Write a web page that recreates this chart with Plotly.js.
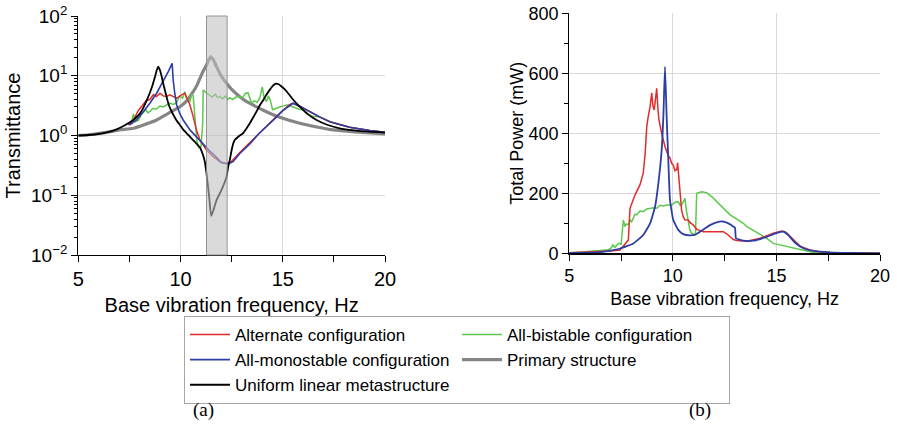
<!DOCTYPE html>
<html>
<head>
<meta charset="utf-8">
<script src="https://cdn.plot.ly/plotly-3.0.1.min.js"></script>
<style>html,body{margin:0;padding:0;background:#fff;}#chart{width:897px;height:425px;}</style>
</head>
<body>
<div id="chart"></div>
<script>
// ---------- (a) Transmittance ----------
const primaryF = [5.0,5.5,6.06,6.5,7.0,7.69,8.3,8.83,9.4,9.97,10.3,10.62,10.8,10.95,11.1,11.27,11.38,11.48,11.6,11.76,11.95,12.1,12.25,12.5,12.9,13.2,13.55,14.0,14.5,15.0,15.83,16.6,17.46,18.5,20.0];
const primaryT = [1.0,1.03,1.09,1.15,1.24,1.32,1.55,1.82,2.35,3.03,3.8,5.4,6.9,9.05,11.8,15.1,18.5,20.8,18.6,14.2,10.5,8.7,7.5,5.9,4.45,3.75,3.24,2.7,2.25,1.94,1.6,1.4,1.24,1.15,1.06];

const uniformF = [5.0,5.5,6.06,6.5,6.87,7.3,7.69,8.0,8.18,8.35,8.5,8.65,8.75,8.84,8.91,8.98,9.07,9.15,9.28,9.40,9.52,9.64,9.8,9.97,10.14,10.3,10.5,10.7,10.95,11.11,11.19,11.27,11.40,11.50,11.6,11.76,12.0,12.25,12.33,12.41,12.49,12.57,12.65,12.74,12.9,13.06,13.22,13.39,13.55,13.71,13.88,14.04,14.2,14.36,14.5,14.66,14.8,14.94,15.1,15.26,15.5,15.83,16.2,16.65,17.2,17.78,18.5,19.2,20.0];
const uniformT = [1.0,1.02,1.07,1.15,1.27,1.5,1.82,2.3,2.9,3.9,5.2,7.3,9.6,12.5,14.2,12.8,10.0,7.5,5.0,3.46,2.7,2.25,1.8,1.5,1.24,1.09,0.92,0.78,0.63,0.46,0.36,0.233,0.095,0.045,0.055,0.083,0.122,0.204,0.3,0.39,0.55,0.72,0.84,0.9,1.0,1.09,1.3,1.6,2.0,2.5,3.2,3.9,4.8,5.8,6.7,7.4,7.2,6.6,5.9,5.1,4.0,3.03,2.3,1.82,1.5,1.32,1.22,1.16,1.12];

const monoF = [7.5,7.85,8.18,8.5,8.83,9.15,9.40,9.59,9.64,9.72,9.81,9.97,10.13,10.46,10.78,11.11,11.43,11.76,12.0,12.33,12.57,12.9,13.39,13.8,14.2,14.6,15.0,15.34,15.5,15.9,16.32,16.8,17.3,18.27,19.25,20.0];
const monoT = [1.5,1.82,2.5,3.46,5.1,7.9,11.7,16.1,8.5,5.0,3.24,2.3,1.82,1.24,0.95,0.7,0.55,0.43,0.35,0.333,0.365,0.5,0.72,1.05,1.4,1.9,2.6,3.2,3.46,3.0,2.5,2.05,1.7,1.37,1.21,1.13];

const altF = [7.44,7.69,7.93,8.18,8.34,8.5,8.67,8.83,8.99,9.15,9.32,9.48,9.56,9.7,9.81,9.95,10.05,10.21,10.33,10.46,10.62,10.78,10.95,11.27,11.6,11.92,12.25,12.5,12.9,13.55,14.2,14.85,15.34,15.5,15.9,16.32,16.8,17.3,18.27,19.25,20.0];
const altT = [1.5,1.8,2.6,3.4,3.9,4.0,4.8,4.5,5.1,4.6,4.5,4.8,4.6,4.4,4.2,4.6,4.8,5.1,4.2,3.24,2.07,1.24,0.84,0.57,0.44,0.365,0.34,0.37,0.52,0.86,1.4,2.35,3.3,3.45,3.0,2.5,2.05,1.7,1.37,1.21,1.13];

const biF = [7.6,7.69,7.8,7.95,8.1,8.3,8.4,8.5,8.65,8.8,8.99,9.15,9.32,9.48,9.64,9.8,9.97,10.1,10.21,10.3,10.46,10.54,10.62,10.7,10.8,10.9,11.0,11.08,11.11,11.25,11.43,11.55,11.7,11.8,11.92,12.05,12.2,12.3,12.41,12.55,12.7,12.9,13.05,13.15,13.3,13.4,13.47,13.6,13.75,13.88,14.0,14.08,14.2,14.3,14.4,14.5,14.6,14.85,15.0,15.18,15.35,15.5,15.8,15.99,16.2,16.48,16.8,17.3,18.27,19.25,20.0];
const biT = [1.6,2.3,1.7,1.8,2.3,2.7,2.4,2.5,2.85,2.75,3.1,3.0,3.24,3.5,3.3,3.5,4.6,4.2,5.4,4.0,3.7,4.8,4.6,2.0,0.8,0.62,0.65,1.5,5.8,5.2,4.8,4.4,4.9,4.3,4.5,4.1,4.6,4.0,4.3,4.0,4.4,4.5,4.3,5.0,5.2,4.0,3.5,3.8,3.6,4.3,6.5,4.4,3.7,4.6,3.8,2.7,2.8,3.0,3.1,3.24,3.15,3.0,2.75,2.7,2.35,2.07,2.05,1.7,1.37,1.21,1.13];

const bandGap = [11.27, 12.28];

// ---------- (b) Total power ----------
const altPF = [5.0,6.0,6.5,6.97,7.45,7.69,7.85,7.93,8.17,8.41,8.57,8.66,8.74,8.82,8.9,8.98,9.04,9.1,9.16,9.22,9.28,9.33,9.46,9.62,9.78,9.86,9.94,10.02,10.1,10.19,10.23,10.31,10.42,10.5,10.58,10.74,10.82,10.99,11.15,11.23,11.47,12.44,12.6,12.76,12.92,13.08,13.57,13.73,14.21,14.7,14.85,15.25,15.4,15.5,15.82,16.14,16.62,17.0,17.6,18.5,20.0];
const altP = [2,4,5,8,11,30,44,150,194,228,267,330,422,460,489,535,490,478,520,550,480,444,400,355,325,318,300,294,275,280,302,233,144,122,112,111,103,94,80,78,72,72,65,55,46,43,40,43,50,63,67,74,72,67,44,24,11,6,3,1,0];

const monoPF = [5.0,6.0,6.5,6.97,7.45,8.09,8.57,8.9,9.14,9.3,9.46,9.54,9.62,9.7,9.78,9.86,10.02,10.26,10.5,10.82,11.07,11.31,11.79,12.19,12.4,12.6,12.8,12.92,13.0,13.05,13.4,13.89,14.53,15.0,15.33,15.57,15.9,16.3,16.78,17.59,18.5,20.0];
const monoP = [1,2,4,9,16,33,61,100,155,233,344,455,622,455,311,178,111,78,64,60,62,72,94,105,106,102,95,89,85,50,42,42,55,67,72,61,35,17,8,3,1,0];

const biPF = [5.0,6.0,6.48,6.9,6.97,7.05,7.1,7.2,7.37,7.5,7.61,7.69,7.75,7.85,7.93,8.01,8.17,8.25,8.41,8.57,8.74,8.9,9.06,9.22,9.38,9.54,9.7,9.94,10.1,10.26,10.35,10.42,10.5,10.58,10.66,10.74,10.82,10.9,11.04,11.09,11.15,11.39,11.63,11.88,12.12,12.28,12.44,12.6,12.76,13.0,13.16,13.4,13.57,13.8,13.97,14.2,14.53,14.85,15.17,15.5,16.14,16.78,17.5,20.0];
const biP = [1,5,9,12,17,20,28,20,33,30,111,89,98,95,111,105,130,128,141,139,148,150,152,150,160,158,161,161,170,172,160,161,175,183,140,100,78,67,61,62,200,205,202,189,172,160,152,140,128,118,111,100,89,80,72,65,50,33,28,22,11,3,1,0];

const legendNames = ["Alternate configuration","All-bistable configuration","All-monostable configuration","Primary structure","Uniform linear metastructure"];
const xTickVals = [5,10,15,20];
const yTickValsA = [0.01,0.1,1,10,100];
const yTickTextA = ["10<sup>\u22122</sup>","10<sup>\u22121</sup>","10<sup>0</sup>","10<sup>1</sup>","10<sup>2</sup>"];

// colors
const cRed = "#e32b2b", cGreen = "#5cc84c", cBlue = "#2c3ea3", cGray = "#858585", cBlack = "#000000";

const logMinor = [];
for (let e = -2; e < 2; e++) for (let k = 2; k <= 9; k++) logMinor.push(k * Math.pow(10, e));

const traces = [
  {x: primaryF, y: primaryT, xaxis:'x', yaxis:'y', mode:'lines', name: legendNames[3], legendrank: 4, line:{color:cGray, width:3.2, shape:'spline', smoothing:0.6}},
  {x: biF, y: biT, xaxis:'x', yaxis:'y', mode:'lines', name: legendNames[1], legendrank: 2, line:{color:cGreen, width:1.5}},
  {x: altF, y: altT, xaxis:'x', yaxis:'y', mode:'lines', name: legendNames[0], legendrank: 1, line:{color:cRed, width:1.5}},
  {x: monoF, y: monoT, xaxis:'x', yaxis:'y', mode:'lines', name: legendNames[2], legendrank: 3, line:{color:cBlue, width:1.6}},
  {x: uniformF, y: uniformT, xaxis:'x', yaxis:'y', mode:'lines', name: legendNames[4], legendrank: 5, line:{color:cBlack, width:1.8, shape:'spline', smoothing:0.5}},
  {x: biPF, y: biP, xaxis:'x2', yaxis:'y2', mode:'lines', showlegend:false, line:{color:cGreen, width:1.5}},
  {x: altPF, y: altP, xaxis:'x2', yaxis:'y2', mode:'lines', showlegend:false, line:{color:cRed, width:1.5}},
  {x: monoPF, y: monoP, xaxis:'x2', yaxis:'y2', mode:'lines', showlegend:false, line:{color:cBlue, width:1.8, shape:'spline', smoothing:0.4}}
];

const F = "Liberation Sans, Arial, sans-serif";
const gridC = "#d9d9d9";
const W = 897, H = 425, ML = 78, MR = 17;
const gw = W - ML - MR;
const px = v => (v - ML) / gw;
const py = v => 1 - v / H;

const baseX = (dom, fs, title, standoff) => ({
  domain: dom, range: [5, 20], showline: true, linecolor: '#000', linewidth: 1.2, mirror: false,
  ticks: 'outside', ticklen: 6, tickwidth: 1, tickcolor: '#000', tickmode: 'array', tickvals: xTickVals,
  tickfont: {family: F, size: fs, color: '#000'}, showgrid: true, gridcolor: gridC, gridwidth: 1, zeroline: false,
  minor: {tickmode: 'linear', tick0: 5, dtick: 2.5, ticks: 'outside', ticklen: 6, tickcolor: '#000', showgrid: false},
  title: {text: title, font: {family: F, size: fs, color: '#000'}, standoff: standoff}, fixedrange: true
});
const topX = (ov, dom) => ({
  overlaying: ov, side: 'top', domain: dom, range: [5, 20], showline: true, linecolor: '#000', linewidth: 1.2,
  ticks: 'inside', ticklen: 5, tickcolor: '#000', tickmode: 'linear', tick0: 5, dtick: 2.5, showticklabels: false,
  showgrid: false, zeroline: false, fixedrange: true
});

const layout = {
  width: W, height: H, margin: {l: ML, r: MR, t: 0, b: 0}, paper_bgcolor: '#fff', plot_bgcolor: '#fff',
  font: {family: F, color: '#000'},
  xaxis: Object.assign(baseX([px(78.3), px(385)], 20, 'Base vibration frequency, Hz', 8), {anchor: 'y'}),
  xaxis3: Object.assign(topX('x', [px(78.3), px(385)]), {anchor: 'y'}),
  yaxis: {
    domain: [py(255), py(16)], type: 'log', range: [-2, 2], anchor: 'x',
    showline: true, linecolor: '#000', linewidth: 1.2, ticks: 'outside', ticklen: 6, tickcolor: '#000',
    tickmode: 'array', tickvals: yTickValsA, ticktext: yTickTextA, tickfont: {family: F, size: 19, color: '#000'},
    showgrid: true, gridcolor: gridC, zeroline: false,
    minor: {tickmode: 'array', tickvals: logMinor, ticks: 'outside', ticklen: 3.5, tickcolor: '#000', showgrid: false},
    title: {text: 'Transmittance', font: {family: F, size: 20, color: '#000'}, standoff: 5}, fixedrange: true
  },
  yaxis3: {
    overlaying: 'y', side: 'right', anchor: 'x', type: 'log', range: [-2, 2],
    showline: true, linecolor: '#000', linewidth: 1.2, ticks: 'inside', ticklen: 5, tickcolor: '#000',
    tickmode: 'array', tickvals: yTickValsA, showticklabels: false, showgrid: false, zeroline: false,
    minor: {tickmode: 'array', tickvals: logMinor, ticks: 'inside', ticklen: 3, tickcolor: '#000', showgrid: false},
    fixedrange: true
  },
  xaxis2: Object.assign(baseX([px(569.3), px(880)], 18, 'Base vibration frequency, Hz', 7), {anchor: 'y2'}),
  xaxis4: Object.assign(topX('x2', [px(569.3), px(880)]), {anchor: 'y2'}),
  yaxis2: {
    domain: [py(253.3), py(13.3)], range: [0, 800], anchor: 'x2',
    showline: true, linecolor: '#000', linewidth: 1.2, ticks: 'outside', ticklen: 6, tickcolor: '#000',
    tickmode: 'linear', tick0: 0, dtick: 200, tickfont: {family: F, size: 18, color: '#000'},
    showgrid: true, gridcolor: gridC, zeroline: false,
    minor: {tickmode: 'linear', tick0: 0, dtick: 100, ticks: 'outside', ticklen: 4, tickcolor: '#000', showgrid: false},
    title: {text: 'Total Power (mW)', font: {family: F, size: 18, color: '#000'}, standoff: 0}, fixedrange: true
  },
  yaxis4: {
    overlaying: 'y2', side: 'right', anchor: 'x2', range: [0, 800],
    showline: true, linecolor: '#000', linewidth: 1.2, ticks: 'inside', ticklen: 5, tickcolor: '#000',
    tickmode: 'linear', tick0: 0, dtick: 100, showticklabels: false, showgrid: false, zeroline: false, fixedrange: true
  },
  shapes: [{
    type: 'rect', xref: 'x', yref: 'y domain', x0: bandGap[0], x1: bandGap[1], y0: 0, y1: 1,
    fillcolor: 'rgba(192,192,192,0.58)', line: {color: 'rgba(140,140,140,0.9)', width: 1}, layer: 'above'
  }],
  legend: {
    orientation: 'h', x: (184 - ML) / gw, y: py(316), xanchor: 'left', yanchor: 'top',
    itemwidth: 40, entrywidth: 217, entrywidthmode: 'pixels', traceorder: 'normal',
    font: {family: F, size: 17, color: '#000'}, bgcolor: '#fff', bordercolor: '#a6a6a6', borderwidth: 1
  },
  annotations: [
    {text: '(a)', xref: 'paper', yref: 'paper', x: px(203), y: py(410), xanchor: 'center', yanchor: 'middle', showarrow: false,
     font: {family: 'Liberation Serif, Times New Roman, serif', size: 19, color: '#000'}},
    {text: '(b)', xref: 'paper', yref: 'paper', x: px(700), y: py(410), xanchor: 'center', yanchor: 'middle', showarrow: false,
     font: {family: 'Liberation Serif, Times New Roman, serif', size: 19, color: '#000'}}
  ],
  showlegend: true
};

Plotly.newPlot('chart', traces, layout, {displayModeBar: false, staticPlot: true});
</script>
</body>
</html>
